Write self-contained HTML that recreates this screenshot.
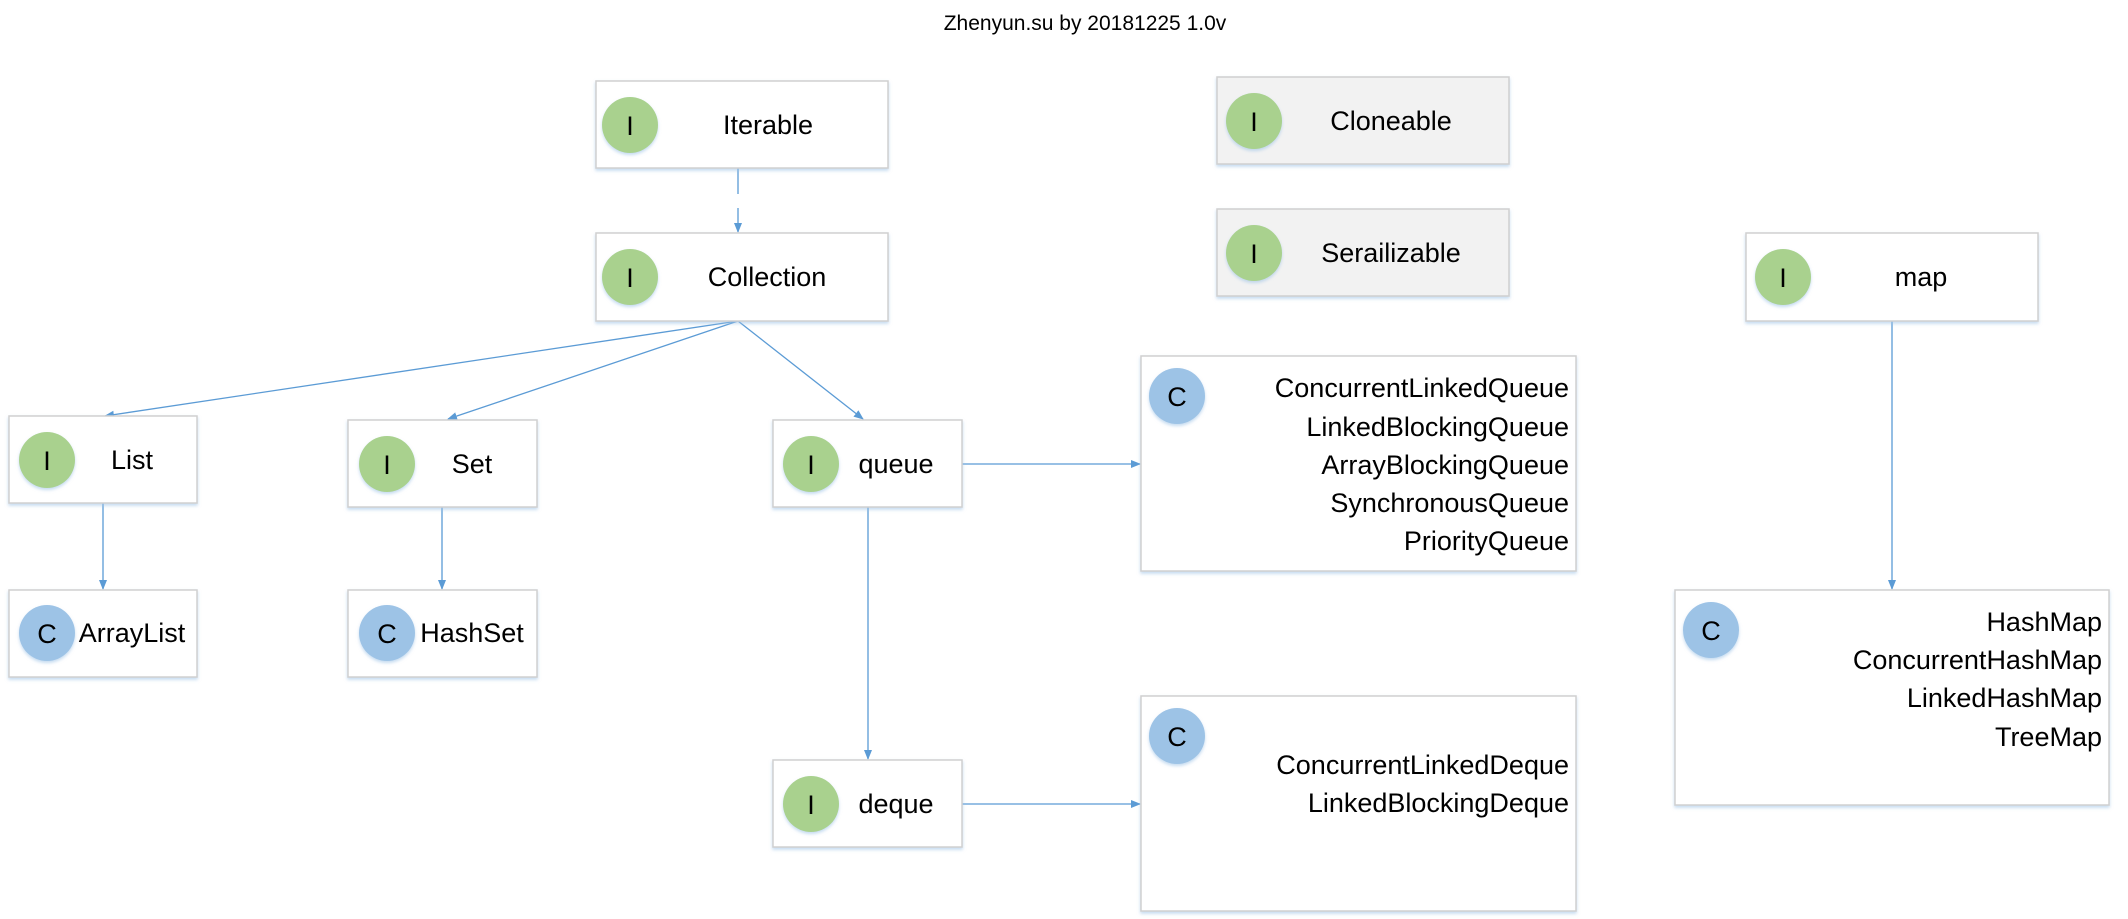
<!DOCTYPE html>
<html><head><meta charset="utf-8"><style>
html,body{margin:0;padding:0;background:#fff;}
svg{display:block;}
text{font-family:"Liberation Sans",sans-serif;fill:#000;}
</style></head><body>
<svg width="2128" height="919" viewBox="0 0 2128 919" xmlns="http://www.w3.org/2000/svg">
<defs>
<marker id="a" markerWidth="10" markerHeight="10" refX="9" refY="5" orient="auto" markerUnits="userSpaceOnUse">
<path d="M0,1 L10,5 L0,9 Z" fill="#5b9bd5"/></marker>
<filter id="s" x="-5%" y="-5%" width="110%" height="115%"><feDropShadow dx="0" dy="2" stdDeviation="1.5" flood-color="#9dc3e6" flood-opacity="0.6"/></filter>
</defs>
<text x="1085" y="30" font-size="21" text-anchor="middle">Zhenyun.su by 20181225 1.0v</text>

<g stroke="#5b9bd5" stroke-width="1.3" fill="none">
<line x1="738" y1="168" x2="738" y2="194"/>
<line x1="738" y1="208" x2="738" y2="232" marker-end="url(#a)"/>
<line x1="738" y1="321" x2="105" y2="416" marker-end="url(#a)"/>
<line x1="738" y1="321" x2="448" y2="419" marker-end="url(#a)"/>
<line x1="738" y1="321" x2="863" y2="419" marker-end="url(#a)"/>
<line x1="103" y1="503" x2="103" y2="589" marker-end="url(#a)"/>
<line x1="442" y1="507" x2="442" y2="589" marker-end="url(#a)"/>
<line x1="868" y1="507" x2="868" y2="759" marker-end="url(#a)"/>
<line x1="962" y1="464" x2="1140" y2="464" marker-end="url(#a)"/>
<line x1="962" y1="804" x2="1140" y2="804" marker-end="url(#a)"/>
<line x1="1892" y1="321" x2="1892" y2="589" marker-end="url(#a)"/>
</g>

<g stroke="#d0d0d0" stroke-width="1.5" filter="url(#s)">
<rect x="596" y="81" width="292" height="87" fill="#fff"/>
<rect x="596" y="233" width="292" height="88" fill="#fff"/>
<rect x="1217" y="77" width="292" height="87" fill="#f2f2f2"/>
<rect x="1217" y="209" width="292" height="87" fill="#f2f2f2"/>
<rect x="1746" y="233" width="292" height="88" fill="#fff"/>
<rect x="9" y="416" width="188" height="87" fill="#fff"/>
<rect x="348" y="420" width="189" height="87" fill="#fff"/>
<rect x="773" y="420" width="189" height="87" fill="#fff"/>
<rect x="9" y="590" width="188" height="87" fill="#fff"/>
<rect x="348" y="590" width="189" height="87" fill="#fff"/>
<rect x="773" y="760" width="189" height="87" fill="#fff"/>
<rect x="1141" y="356" width="435" height="215" fill="#fff"/>
<rect x="1141" y="696" width="435" height="215" fill="#fff"/>
<rect x="1675" y="590" width="434" height="215" fill="#fff"/>
</g>

<g filter="url(#s)">
<ellipse cx="630" cy="125" rx="28" ry="28" fill="#a9d18e"/>
<ellipse cx="630" cy="277" rx="28" ry="28" fill="#a9d18e"/>
<ellipse cx="1254" cy="121" rx="28" ry="28" fill="#a9d18e"/>
<ellipse cx="1254" cy="253" rx="28" ry="28" fill="#a9d18e"/>
<ellipse cx="1783" cy="277" rx="28" ry="28" fill="#a9d18e"/>
<ellipse cx="47" cy="460" rx="28" ry="28" fill="#a9d18e"/>
<ellipse cx="387" cy="464" rx="28" ry="28" fill="#a9d18e"/>
<ellipse cx="811" cy="464" rx="28" ry="28" fill="#a9d18e"/>
<ellipse cx="811" cy="804" rx="28" ry="28" fill="#a9d18e"/>
<ellipse cx="47" cy="633" rx="28" ry="28" fill="#9dc3e6"/>
<ellipse cx="387" cy="633" rx="28" ry="28" fill="#9dc3e6"/>
<ellipse cx="1177" cy="396" rx="28" ry="28" fill="#9dc3e6"/>
<ellipse cx="1177" cy="736" rx="28" ry="28" fill="#9dc3e6"/>
<ellipse cx="1711" cy="630" rx="28" ry="28" fill="#9dc3e6"/>
</g>

<g font-size="27" text-anchor="middle">
<text x="630" y="135">I</text>
<text x="630" y="287">I</text>
<text x="1254" y="131">I</text>
<text x="1254" y="263">I</text>
<text x="1783" y="287">I</text>
<text x="47" y="470">I</text>
<text x="387" y="474">I</text>
<text x="811" y="474">I</text>
<text x="811" y="814">I</text>
<text x="47" y="643">C</text>
<text x="387" y="643">C</text>
<text x="1177" y="406">C</text>
<text x="1177" y="746">C</text>
<text x="1711" y="640">C</text>
</g>

<g font-size="27" text-anchor="middle">
<text x="768" y="134">Iterable</text>
<text x="767" y="286">Collection</text>
<text x="1391" y="130">Cloneable</text>
<text x="1391" y="262">Serailizable</text>
<text x="1921" y="286">map</text>
<text x="132" y="469">List</text>
<text x="472" y="473">Set</text>
<text x="896" y="473">queue</text>
<text x="896" y="813">deque</text>
<text x="132" y="642">ArrayList</text>
<text x="472" y="642">HashSet</text>
</g>

<g font-size="27" text-anchor="end">
<text x="1569" y="397">ConcurrentLinkedQueue</text>
<text x="1569" y="436">LinkedBlockingQueue</text>
<text x="1569" y="474">ArrayBlockingQueue</text>
<text x="1569" y="512">SynchronousQueue</text>
<text x="1569" y="550">PriorityQueue</text>
<text x="1569" y="774">ConcurrentLinkedDeque</text>
<text x="1569" y="812">LinkedBlockingDeque</text>
<text x="2102" y="631">HashMap</text>
<text x="2102" y="669">ConcurrentHashMap</text>
<text x="2102" y="707">LinkedHashMap</text>
<text x="2102" y="746">TreeMap</text>
</g>
</svg>
</body></html>
